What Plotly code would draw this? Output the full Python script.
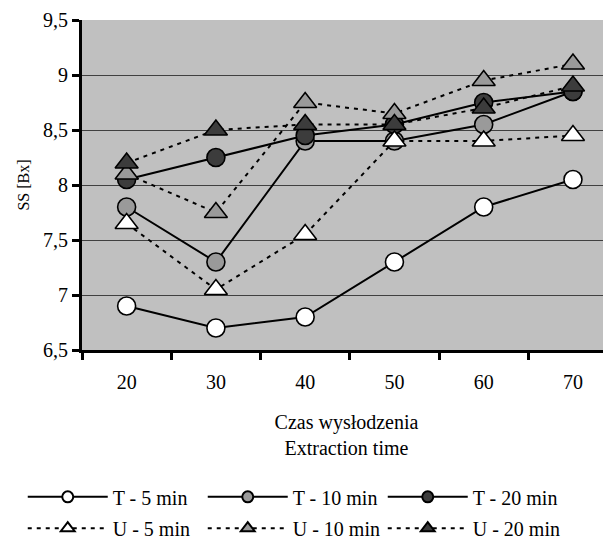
import plotly.graph_objects as go

categories = ["20", "30", "40", "50", "60", "70"]
t5 = [6.9, 6.7, 6.8, 7.3, 7.8, 8.05]
t10 = [7.8, 7.3, 8.4, 8.4, 8.55, 8.85]
t20 = [8.05, 8.25, 8.45, 8.55, 8.75, 8.85]
u5 = [7.65, 7.05, 7.55, 8.4, 8.4, 8.45]
u10 = [8.1, 7.75, 8.75, 8.65, 8.95, 9.1]
u20 = [8.2, 8.5, 8.55, 8.55, 8.7, 8.9]

y_tickvals = [6.5, 7, 7.5, 8, 8.5, 9, 9.5]
y_ticktext = ["6,5", "7", "7,5", "8", "8,5", "9", "9,5"]

FONT = "Liberation Serif"
DASH = "4px,5px"

series = [
    ("T - 5 min", t5, "circle", "#ffffff", "solid", "legend"),
    ("T - 10 min", t10, "circle", "#9a9a9a", "solid", "legend"),
    ("T - 20 min", t20, "circle", "#3c3c3c", "solid", "legend"),
    ("U - 5 min", u5, "triangle-up", "#ffffff", DASH, "legend2"),
    ("U - 10 min", u10, "triangle-up", "#9a9a9a", DASH, "legend2"),
    ("U - 20 min", u20, "triangle-up", "#3c3c3c", DASH, "legend2"),
]

fig = go.Figure()
for name, vals, sym, col, dash, lg in series:
    fig.add_trace(go.Scatter(
        x=categories, y=vals, name=name, mode="lines+markers",
        line=dict(color="black", width=2, dash=dash),
        marker=dict(symbol=sym, size=18 if sym == "circle" else 20, color=col,
                    line=dict(color="black", width=1.6)),
        showlegend=False, cliponaxis=False,
    ))
# legend entries (smaller symbols, as in the reference legend)
for name, vals, sym, col, dash, lg in series:
    fig.add_trace(go.Scatter(
        x=[None], y=[None], name=name, mode="lines+markers",
        line=dict(color="black", width=2, dash=dash),
        marker=dict(symbol=sym, size=11 if sym == "circle" else 12, color=col,
                    line=dict(color="black", width=2)),
        legend=lg, showlegend=True,
    ))

leg_common = dict(
    orientation="h", xanchor="left", yanchor="middle",
    font=dict(family=FONT, size=20, color="black"),
    bgcolor="rgba(0,0,0,0)", itemwidth=80,
    entrywidth=85, entrywidthmode="pixels",
)
# the page body has an 8px margin, so the figure is sized/shifted to compensate
fig.update_layout(
    width=603, height=531,
    margin=dict(l=74, r=0, t=12, b=189, autoexpand=False),
    paper_bgcolor="white", plot_bgcolor="#c0c0c0",
    separators=", ",
    font=dict(family=FONT, size=20, color="black"),
    showlegend=True,
    legend=dict(x=-0.112, y=-0.445, **leg_common),
    legend2=dict(x=-0.112, y=-0.54, **leg_common),
    xaxis=dict(
        type="category", range=[-0.5, 5.426], tickson="boundaries",
        ticks="outside", ticklen=7, tickwidth=3, tickcolor="black",
        showline=True, linecolor="black", linewidth=3,
        showgrid=False, zeroline=False, ticklabelstandoff=12,
        tickfont=dict(family=FONT, size=20),
        title=dict(text="Czas wysłodzenia<br>Extraction time",
                   font=dict(family=FONT, size=20), standoff=23),
    ),
    yaxis=dict(
        range=[6.5, 9.5], tickvals=y_tickvals, ticktext=y_ticktext,
        ticks="outside", ticklen=7, tickwidth=3, tickcolor="black",
        showline=True, linecolor="black", linewidth=3,
        showgrid=True, gridcolor="#404040", gridwidth=1,
        zeroline=False, ticklabelstandoff=0,
        tickfont=dict(family=FONT, size=20),
        title=dict(text="SS [Bx]", font=dict(family=FONT, size=16), standoff=10),
    ),
)

fig.write_html("out.html")
